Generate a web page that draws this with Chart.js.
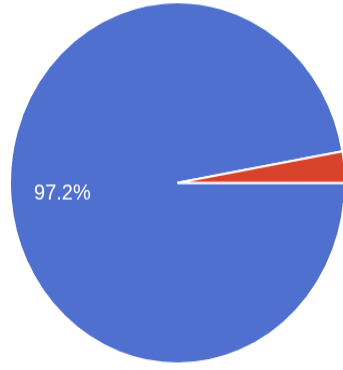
<!DOCTYPE html>
<html lang="en">
<head>
<meta charset="UTF-8">
<title>Pie</title>
<script src="https://cdn.jsdelivr.net/npm/chart.js"></script>
<style>
  * { margin: 0; padding: 0; box-sizing: border-box; }
  html, body { width: 343px; height: 370px; overflow: hidden; background: #ffffff; }
  .wrap { width: 350px; height: 343px; transform-origin: 0 0; transform: scale(1, 1.0787); }
</style>
</head>
<body>
<div class="wrap">
  <canvas id="pie" width="350" height="343"></canvas>
</div>
<script>
  // values
  const labels = ['A', 'B'];
  const values = [97.2, 2.8];
  const colors = ['#5070cf', '#d8412a'];
  const shownLabels = ['97.2%', ''];

  // put the percentage inside each slice, out towards the rim
  const sliceLabels = {
    id: 'sliceLabels',
    afterDatasetsDraw(chart) {
      const ctx = chart.ctx;
      const arcs = chart.getDatasetMeta(0).data;
      ctx.save();
      ctx.fillStyle = '#ffffff';
      ctx.font = '20px "Liberation Sans", Arial, sans-serif';
      ctx.textAlign = 'center';
      ctx.textBaseline = 'middle';
      arcs.forEach((arc, i) => {
        if (!shownLabels[i]) return;
        const p = arc.getProps(['x', 'y', 'startAngle', 'endAngle', 'outerRadius'], true);
        const mid = (p.startAngle + p.endAngle) / 2;
        const r = p.outerRadius * 0.69;
        ctx.fillText(shownLabels[i], p.x + Math.cos(mid) * r, p.y + Math.sin(mid) * r);
      });
      ctx.restore();
    }
  };

  new Chart(document.getElementById('pie'), {
    type: 'pie',
    data: {
      labels: labels,
      datasets: [{
        data: values,
        backgroundColor: colors,
        borderColor: '#ffffff',
        borderWidth: 2
      }]
    },
    options: {
      responsive: false,
      animation: false,
      rotation: 90,
      layout: { padding: { left: 9, right: 4, top: 1, bottom: 5 } },
      plugins: {
        legend: { display: false },
        tooltip: { enabled: false }
      }
    },
    plugins: [sliceLabels]
  });
</script>
</body>
</html>
